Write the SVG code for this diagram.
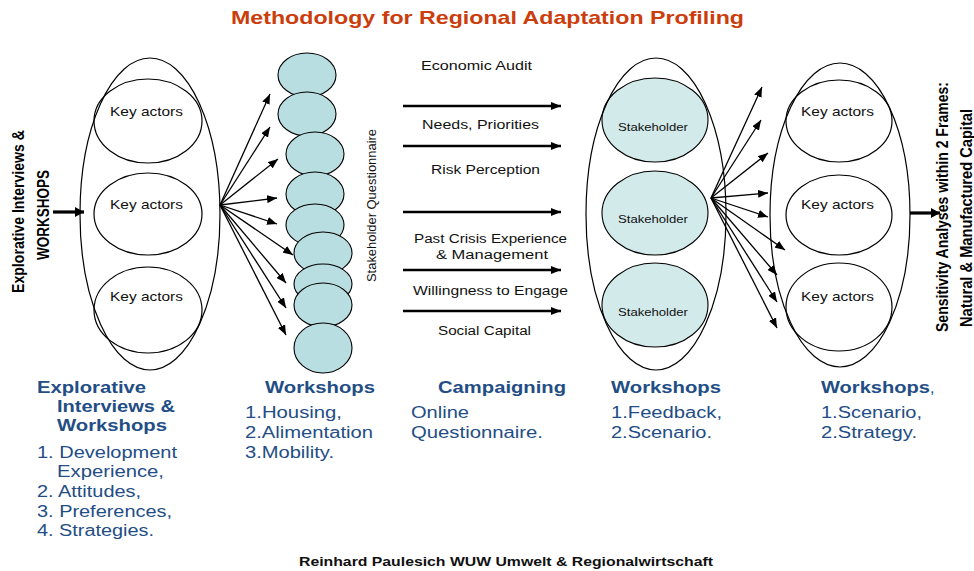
<svg xmlns="http://www.w3.org/2000/svg" width="974" height="571" viewBox="0 0 974 571">
  <style>
    .title { font-family: "Liberation Sans", Arial, sans-serif; font-weight: bold; font-size: 19px; fill: #cc3d0c; }
    .foot { font-family: "Liberation Sans", Arial, sans-serif; font-weight: bold; font-size: 12px; fill: #111; }
    .lbl { font-family: "Liberation Sans", Arial, sans-serif; font-size: 13px; fill: #111; }
    .sh { font-family: "Liberation Sans", Arial, sans-serif; font-size: 11px; fill: #111; }
    .mid { font-family: "Liberation Sans", Arial, sans-serif; font-size: 12px; fill: #111; }
    .vert { font-family: "Liberation Sans", Arial, sans-serif; font-weight: bold; font-size: 16px; fill: #000; }
    .vq { font-family: "Liberation Sans", Arial, sans-serif; font-size: 12px; fill: #111; }
    .hd { font-family: "Liberation Sans", Arial, sans-serif; font-weight: bold; font-size: 16.5px; fill: #234d85; }
    .it { font-family: "Liberation Sans", Arial, sans-serif; font-size: 16px; fill: #234d85; }
    .outer { fill: none; stroke: #000; stroke-width: 1.2; }
    .inner { fill: none; stroke: #000; stroke-width: 1.2; }
    .qcell { fill: #b9dee1; stroke: #000; stroke-width: 1.1; }
    .scell { fill: #d3eaeb; stroke: #000; stroke-width: 1.1; }
    .fan { stroke: #000; stroke-width: 1.3; fill: none; marker-end: url(#fanHead); }
    .flow { stroke: #000; stroke-width: 2.4; fill: none; marker-end: url(#midHead); }
    .bold { stroke: #000; stroke-width: 3.2; fill: none; marker-end: url(#boldHead); }
  </style>
  <defs>
    <marker id="fanHead" markerUnits="userSpaceOnUse" viewBox="0 0 10 8" markerWidth="10" markerHeight="8" refX="10" refY="4" orient="auto">
      <path d="M0,0 L10,4 L0,8 z" fill="#000"/>
    </marker>
    <marker id="midHead" markerUnits="userSpaceOnUse" viewBox="0 0 10 8" markerWidth="10" markerHeight="8" refX="10" refY="4" orient="auto">
      <path d="M0,0 L10,4 L0,8 z" fill="#000"/>
    </marker>
    <marker id="boldHead" markerUnits="userSpaceOnUse" viewBox="0 0 9 10" markerWidth="9" markerHeight="10" refX="9" refY="5" orient="auto">
      <path d="M0,0 L9,5 L0,10 z" fill="#000"/>
    </marker>
  </defs>

  <rect x="0" y="0" width="974" height="571" fill="#fff"/>

  <text class="title" x="231" y="24" textLength="513" lengthAdjust="spacingAndGlyphs">Methodology for Regional Adaptation Profiling</text>

  <!-- side captions -->
  <g id="intro-caption">
    <text class="vert" transform="translate(24,293) rotate(-90)" textLength="163" lengthAdjust="spacingAndGlyphs">Explorative Interviews &amp;</text>
    <text class="vert" transform="translate(49,260) rotate(-90)" textLength="90" lengthAdjust="spacingAndGlyphs">WORKSHOPS</text>
  </g>

  <!-- key actors, first round -->
  <g id="key-actors-left">
    <ellipse class="inner" cx="148" cy="121" rx="54" ry="42"/>
    <ellipse class="inner" cx="148" cy="214" rx="54" ry="41"/>
    <ellipse class="inner" cx="148" cy="310" rx="54" ry="43"/>
    <ellipse class="outer" cx="150" cy="214" rx="70" ry="156"/>
    <text class="lbl" x="110" y="116" textLength="73" lengthAdjust="spacingAndGlyphs">Key actors</text>
    <text class="lbl" x="110" y="209" textLength="73" lengthAdjust="spacingAndGlyphs">Key actors</text>
    <text class="lbl" x="110" y="301" textLength="73" lengthAdjust="spacingAndGlyphs">Key actors</text>
  </g>

  <!-- questionnaire column -->
  <g id="questionnaire">
    <ellipse class="qcell" cx="307" cy="75" rx="29" ry="22"/>
    <ellipse class="qcell" cx="307" cy="114" rx="29" ry="22"/>
    <ellipse class="qcell" cx="315" cy="154" rx="29" ry="22"/>
    <ellipse class="qcell" cx="315" cy="194" rx="29" ry="22"/>
    <ellipse class="qcell" cx="315" cy="225" rx="29" ry="21"/>
    <ellipse class="qcell" cx="323" cy="253" rx="29" ry="21"/>
    <ellipse class="qcell" cx="323" cy="284" rx="29" ry="20"/>
    <ellipse class="qcell" cx="323" cy="305" rx="29" ry="22"/>
    <ellipse class="qcell" cx="323" cy="348" rx="29" ry="25"/>
    <text class="vq" transform="translate(376,282) rotate(-90)" textLength="153" lengthAdjust="spacingAndGlyphs">Stakeholder Questionnaire</text>
  </g>

  <!-- stakeholders -->
  <g id="stakeholders">
    <ellipse class="scell" cx="655" cy="120" rx="53" ry="42"/>
    <ellipse class="scell" cx="655" cy="213" rx="53" ry="42"/>
    <ellipse class="scell" cx="655" cy="305" rx="53" ry="42"/>
    <ellipse class="outer" cx="656" cy="214" rx="70" ry="156"/>
    <text class="sh" x="618" y="131" textLength="70" lengthAdjust="spacingAndGlyphs">Stakeholder</text>
    <text class="sh" x="618" y="223" textLength="70" lengthAdjust="spacingAndGlyphs">Stakeholder</text>
    <text class="sh" x="618" y="316" textLength="70" lengthAdjust="spacingAndGlyphs">Stakeholder</text>
  </g>

  <!-- key actors, final round -->
  <g id="key-actors-right">
    <ellipse class="inner" cx="839" cy="121" rx="53" ry="41"/>
    <ellipse class="inner" cx="839" cy="215" rx="53" ry="40"/>
    <ellipse class="inner" cx="839" cy="307" rx="53" ry="44"/>
    <ellipse class="outer" cx="840" cy="215" rx="70" ry="152"/>
    <text class="lbl" x="801" y="116" textLength="73" lengthAdjust="spacingAndGlyphs">Key actors</text>
    <text class="lbl" x="801" y="209" textLength="73" lengthAdjust="spacingAndGlyphs">Key actors</text>
    <text class="lbl" x="801" y="301" textLength="73" lengthAdjust="spacingAndGlyphs">Key actors</text>
  </g>

  <g id="outro-caption">
    <text class="vert" transform="translate(948,332) rotate(-90)" textLength="250" lengthAdjust="spacingAndGlyphs">Sensitivity Analyses within 2 Frames:</text>
    <text class="vert" transform="translate(972,327) rotate(-90)" textLength="218" lengthAdjust="spacingAndGlyphs">Natural &amp; Manufactured Capital</text>
  </g>

  <!-- campaign topics -->
  <g id="topics">
    <text class="mid" x="421" y="70" textLength="111" lengthAdjust="spacingAndGlyphs">Economic Audit</text>
    <text class="mid" x="422" y="129" textLength="117" lengthAdjust="spacingAndGlyphs">Needs, Priorities</text>
    <text class="mid" x="431" y="174" textLength="109" lengthAdjust="spacingAndGlyphs">Risk Perception</text>
    <text class="mid" x="414" y="243" textLength="153" lengthAdjust="spacingAndGlyphs">Past Crisis Experience</text>
    <text class="mid" x="436" y="259" textLength="112" lengthAdjust="spacingAndGlyphs">&amp; Management</text>
    <text class="mid" x="413" y="295" textLength="155" lengthAdjust="spacingAndGlyphs">Willingness to Engage</text>
    <text class="mid" x="438" y="335" textLength="93" lengthAdjust="spacingAndGlyphs">Social Capital</text>
  </g>

  <!-- connectors -->
  <g id="connectors">
    <line class="bold" x1="53" y1="212" x2="84" y2="212"/>
    <line class="bold" x1="910" y1="213" x2="940" y2="213"/>

    <line class="fan" x1="220" y1="205" x2="270" y2="94"/>
    <line class="fan" x1="220" y1="205" x2="270" y2="127"/>
    <line class="fan" x1="220" y1="205" x2="278" y2="159"/>
    <line class="fan" x1="220" y1="205" x2="277" y2="198"/>
    <line class="fan" x1="220" y1="205" x2="277" y2="224"/>
    <line class="fan" x1="220" y1="205" x2="293" y2="255"/>
    <line class="fan" x1="220" y1="205" x2="286" y2="283"/>
    <line class="fan" x1="220" y1="205" x2="286" y2="308"/>
    <line class="fan" x1="220" y1="205" x2="286" y2="335"/>

    <line class="flow" x1="403" y1="106" x2="561" y2="106"/>
    <line class="flow" x1="403" y1="146" x2="561" y2="146"/>
    <line class="flow" x1="403" y1="212" x2="561" y2="212"/>
    <line class="flow" x1="403" y1="270" x2="561" y2="270"/>
    <line class="flow" x1="403" y1="311" x2="561" y2="311"/>

    <line class="fan" x1="711" y1="198" x2="762" y2="87"/>
    <line class="fan" x1="711" y1="198" x2="761" y2="120"/>
    <line class="fan" x1="711" y1="198" x2="768" y2="153"/>
    <line class="fan" x1="711" y1="198" x2="768" y2="193"/>
    <line class="fan" x1="711" y1="198" x2="768" y2="217"/>
    <line class="fan" x1="711" y1="198" x2="785" y2="250"/>
    <line class="fan" x1="711" y1="198" x2="777" y2="275"/>
    <line class="fan" x1="711" y1="198" x2="777" y2="302"/>
    <line class="fan" x1="711" y1="198" x2="777" y2="328"/>
  </g>

  <!-- phase descriptions -->
  <g id="phase-1">
    <text class="hd" x="37" y="393" textLength="109" lengthAdjust="spacingAndGlyphs">Explorative</text>
    <text class="hd" x="57" y="412" textLength="118" lengthAdjust="spacingAndGlyphs">Interviews &amp;</text>
    <text class="hd" x="57" y="431" textLength="110" lengthAdjust="spacingAndGlyphs">Workshops</text>
    <text class="it" x="37" y="458" textLength="140" lengthAdjust="spacingAndGlyphs">1. Development</text>
    <text class="it" x="57" y="477" textLength="107" lengthAdjust="spacingAndGlyphs">Experience,</text>
    <text class="it" x="37" y="497" textLength="104" lengthAdjust="spacingAndGlyphs">2. Attitudes,</text>
    <text class="it" x="37" y="517" textLength="135" lengthAdjust="spacingAndGlyphs">3. Preferences,</text>
    <text class="it" x="37" y="536" textLength="117" lengthAdjust="spacingAndGlyphs">4. Strategies.</text>
  </g>
  <g id="phase-2">
    <text class="hd" x="265" y="393" textLength="110" lengthAdjust="spacingAndGlyphs">Workshops</text>
    <text class="it" x="245" y="418" textLength="97" lengthAdjust="spacingAndGlyphs">1.Housing,</text>
    <text class="it" x="245" y="438" textLength="128" lengthAdjust="spacingAndGlyphs">2.Alimentation</text>
    <text class="it" x="245" y="458" textLength="89" lengthAdjust="spacingAndGlyphs">3.Mobility.</text>
  </g>
  <g id="phase-3">
    <text class="hd" x="438" y="393" textLength="128" lengthAdjust="spacingAndGlyphs">Campaigning</text>
    <text class="it" x="411" y="418" textLength="58" lengthAdjust="spacingAndGlyphs">Online</text>
    <text class="it" x="411" y="438" textLength="132" lengthAdjust="spacingAndGlyphs">Questionnaire.</text>
  </g>
  <g id="phase-4">
    <text class="hd" x="611" y="393" textLength="110" lengthAdjust="spacingAndGlyphs">Workshops</text>
    <text class="it" x="611" y="418" textLength="111" lengthAdjust="spacingAndGlyphs">1.Feedback,</text>
    <text class="it" x="611" y="438" textLength="101" lengthAdjust="spacingAndGlyphs">2.Scenario.</text>
  </g>
  <g id="phase-5">
    <text x="821" y="393"><tspan class="hd" textLength="109" lengthAdjust="spacingAndGlyphs">Workshops</tspan><tspan class="it">,</tspan></text>
    <text class="it" x="821" y="418" textLength="101" lengthAdjust="spacingAndGlyphs">1.Scenario,</text>
    <text class="it" x="821" y="438" textLength="96" lengthAdjust="spacingAndGlyphs">2.Strategy.</text>
  </g>

  <text class="foot" x="299" y="566" textLength="414" lengthAdjust="spacingAndGlyphs">Reinhard Paulesich WUW Umwelt &amp; Regionalwirtschaft</text>
</svg>
